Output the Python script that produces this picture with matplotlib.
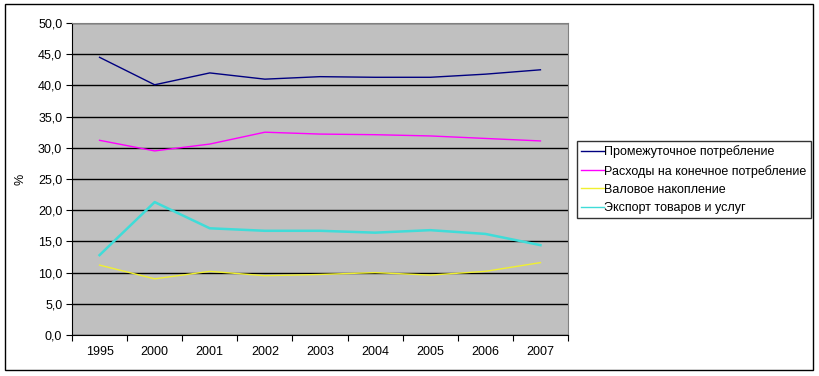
import numpy as np
import matplotlib.pyplot as plt
from matplotlib.patches import Rectangle

plt.rcParams['font.family'] = ['Liberation Sans', 'DejaVu Sans']

years = ['1995', '2000', '2001', '2002', '2003', '2004', '2005', '2006', '2007']

# shares, %
intermediate = [44.5, 40.1, 42.0, 41.0, 41.4, 41.3, 41.3, 41.8, 42.5]
final_cons = [31.2, 29.5, 30.6, 32.5, 32.2, 32.1, 31.9, 31.5, 31.1]
gross_acc = [11.2, 9.0, 10.2, 9.5, 9.7, 10.0, 9.6, 10.2, 11.6]
exports = [12.8, 21.3, 17.1, 16.7, 16.7, 16.4, 16.8, 16.2, 14.4]

series_names = ['Промежуточное потребление', 'Расходы на конечное потребление',
                'Валовое накопление', 'Экспорт товаров и услуг']
colors = ['#000080', '#FF00FF', '#F0F030', '#40DCD8']
widths = [1.0, 1.0, 1.0, 1.8]

fig = plt.figure(figsize=(8.19, 3.76), dpi=100)
fig.patches.append(Rectangle((5 / 819, 6 / 376), 808 / 819, 366 / 376,
                             transform=fig.transFigure, fill=False,
                             edgecolor='black', linewidth=1.0))

ax = fig.add_axes([72 / 819, 41 / 376, 496 / 819, 312 / 376])
ax.set_facecolor('#C0C0C0')

x = np.arange(len(years))
for vals, name, c, lw in zip([intermediate, final_cons, gross_acc, exports],
                             series_names, colors, widths):
    ax.plot(x, vals, color=c, linewidth=lw, label=name)

ax.set_xlim(-0.5, len(years) - 0.5)
ax.set_ylim(0, 50)
yt = np.arange(0, 50.1, 5)
ax.set_yticks(yt)
ax.set_yticklabels([f'{v:.1f}'.replace('.', ',') for v in yt], fontsize=9)
ax.yaxis.grid(True, color='black', linewidth=1.0)
ax.set_axisbelow(True)

ax.set_xticks(np.arange(-0.5, len(years)), minor=False)
ax.set_xticklabels([])
ax.set_xticks(x, minor=True)
ax.set_xticklabels(years, minor=True, fontsize=9)
ax.tick_params(axis='x', which='minor', length=0, pad=8)
ax.tick_params(axis='x', which='major', length=4, direction='out', color='black')
ax.tick_params(axis='y', length=4, direction='out', color='black', pad=3)

for s in ['top', 'right']:
    ax.spines[s].set_color('#808080')
for s in ['left', 'bottom']:
    ax.spines[s].set_color('black')

ax.set_ylabel('%', fontsize=9, labelpad=8)

leg = fig.legend(loc='upper left', bbox_to_anchor=(577 / 819, 1 - 141 / 376),
                 fontsize=9, frameon=True, fancybox=False, edgecolor='black',
                 handlelength=1.8, handletextpad=0.05, labelspacing=0.5,
                 borderpad=0.35, borderaxespad=0)
leg.get_frame().set_linewidth(1.0)
for h in leg.get_lines():
    h.set_linewidth(1.0)

fig.savefig('out.png', dpi=100)
